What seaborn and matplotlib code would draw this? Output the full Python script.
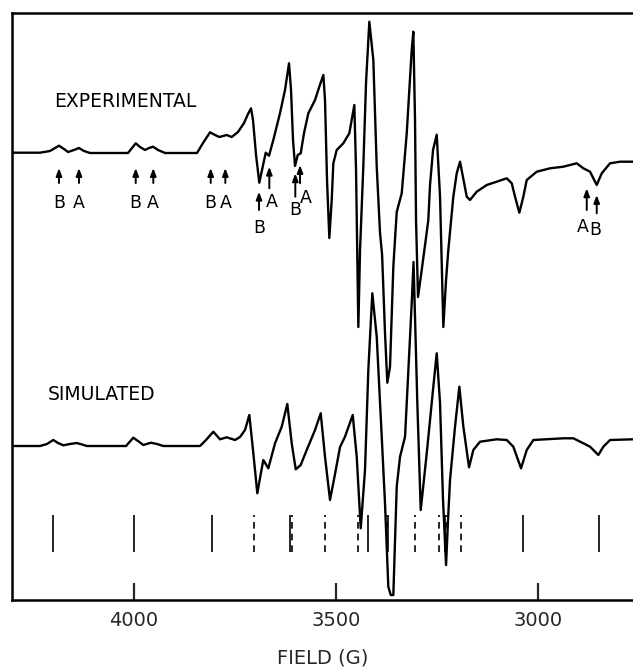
import numpy as np
import pandas as pd
import matplotlib
matplotlib.use("Agg")
import matplotlib.pyplot as plt
import seaborn as sns

# ---------------- data ----------------
# Experimental trace: magnetic field (G) and derivative intensity (arb. units)
exp_field = [4302, 4232.7, 4208, 4185.7, 4173.3, 4163.4, 4148.5, 4136.2, 4123.8, 4108.9,
             4014.9, 4005, 3995.8, 3985.2, 3972.8, 3962.9, 3953, 3940.6, 3923.3,
             3844.1, 3829.2, 3811.9, 3799.5, 3788.9, 3770.6, 3758.2, 3742.6, 3727.7, 3717.9,
             3710.4, 3705.5, 3698, 3689.9, 3683.2, 3674, 3665.9, 3655.2, 3638.6, 3626.3,
             3616.4, 3611.4, 3606.5, 3601.5, 3594.8, 3587.4, 3579.2, 3568.6, 3552, 3541.4,
             3531.4, 3527.3, 3522.3, 3516.6, 3510.7, 3506.7, 3498.3, 3482, 3467.1, 3454.7,
             3450.5, 3444.8, 3440.6, 3432.5, 3425.8, 3417.6, 3407.7, 3399.3, 3391.1, 3386,
             3378.8, 3373.1, 3366.4, 3358.2, 3349.8, 3337.4, 3325, 3312.7, 3308.7, 3304.5,
             3302, 3297.1, 3289.6, 3279.7, 3271.6, 3267.4, 3259.9, 3250.8, 3242.6, 3234.4,
             3227.7, 3222.1, 3209.7, 3201.3, 3193.1, 3176.5, 3168.4, 3151.8, 3127, 3102.3,
             3077.5, 3065.1, 3057, 3046.3, 3036.4, 3028, 3003.3, 2970.3, 2937.4, 2904.3,
             2887.9, 2871.3, 2854.8, 2842.4, 2821.8, 2797.1, 2772.3, 2764.9]
exp_signal = [0, 0, 1.7, 7, 3.7, 0.7, 2.7, 4.7, 1.7, -0.3,
              -0.3, 4.7, 9.4, 5.7, 2.7, 4.7, 6, 2.7, -0.3,
              -0.3, 9.7, 20.4, 17.7, 15.7, 17.7, 15.7, 20.7, 29.7, 38.7,
              44.4, 32.7, -2.3, -30, -17.3, 0, -3, 12.7, 39.7, 62.7,
              89.4, 62.7, 12.7, -13.3, -2.3, -0.6, 19.7, 39.4, 52.7, 66,
              77.7, 52.7, -27.3, -85.3, -47.3, -10.6, 2.7, 9.4, 19.4, 47.7,
              -17.3, -174.3, -97.3, -14, 69.7, 131, 92.7, -14, -80.3, -102,
              -180.3, -230, -214, -114, -59.3, -40.6, 19.4, 102.7, 121, 32.7,
              -67.3, -144.3, -122.3, -92.3, -67.3, -32.3, 2.7, 18, -44, -174.3,
              -127.3, -97.3, -44, -20.6, -9, -44, -47.3, -39, -32.3, -29,
              -25.6, -30.6, -44, -60, -44, -27.3, -19, -15.6, -14, -10.6,
              -15.6, -19, -32.3, -20.6, -10.6, -9, -9, -9]

# Simulated trace
sim_field = [4302, 4232.7, 4215.4, 4199.8, 4188.1, 4175, 4158.4, 4141.9, 4128.7, 4117.1,
             4019.8, 4001.8, 3990.1, 3977, 3957.9, 3943.1, 3927.5,
             3836.7, 3821.8, 3803.7, 3787.2, 3770.6, 3750, 3737.7, 3725.3, 3714.6, 3705.5,
             3694.8, 3688.1, 3680, 3667.6, 3651, 3634.4, 3620.6, 3609.7, 3599.8, 3587.4,
             3572.6, 3552, 3537.9, 3527.3, 3514.9, 3502.5, 3490.1, 3477.8, 3458.7, 3448.8,
             3438.9, 3428.3, 3420.1, 3410.2, 3399.3, 3386.9, 3378.8, 3370.6, 3364.6, 3358.2,
             3349.8, 3341.6, 3329.2, 3312.7, 3308.2, 3298.8, 3290.4, 3275.5, 3259.2, 3250.8,
             3242.6, 3235.2, 3227.7, 3222.8, 3217.9, 3205.5, 3194.8, 3184.9, 3170.8, 3160.2,
             3143.6, 3102.3, 3077.5, 3061.2, 3042.1, 3028, 3011.6, 2937.4, 2912.6, 2887.9,
             2871.3, 2850.8, 2838.4, 2821.8, 2764.9]
sim_signal = [0, 0, 2, 6, 3, 0.7, 2, 3, 1.5, 0,
              0, 8.3, 5, 1, 3.3, 2, 0,
              0, 6, 14.3, 6.7, 8.7, 6, 9, 16, 31, -4,
              -47.3, -32, -14, -22.3, 2.7, 19.3, 42, 2.7, -23.3, -19,
              -4, 16, 32.7, -10.7, -54, -28, -1, 9.3, 31, -10.7,
              -82.3, -24, 76, 152.7, 109.3, 9.3, -57.3, -140.7, -149, -149,
              -40.7, -10.7, 9.3, 142.7, 184, 42.7, -64, -7.3, 59.3, 92.7,
              42.7, -54, -119, -74, -34, 19.3, 59.3, 19.3, -21.3, -4,
              4.3, 6.7, 6, -0.7, -22.3, -4, 6, 7.7, 7.7, 2.7,
              -0.7, -9, -0.7, 6, 6.7]

# Stick spectrum (line positions, G)
stick_solid = [4200, 4000, 3807, 3614, 3420, 3372, 3231, 3038, 2848]
stick_dashed = [3702, 3610, 3527, 3445, 3375, 3305, 3244, 3228, 3191]

# Arrow markers on the experimental trace (field, label)
arrow_field = [4185.7, 4136.2, 3995.8, 3952.3, 3810.2, 3774.0,
               3690.6, 3665.1, 3600.8, 3589.1, 2879.5, 2854.8]
arrow_label = ["B", "A", "B", "A", "B", "A", "B", "A", "B", "A", "A", "B"]

x_ticks = [4000, 3500, 3000]
x_tick_labels = ["4000", "3500", "3000"]

# ---------------- layout (not data) ----------------
EXP_OFFSET = 447.3
SIM_OFFSET = 154.0
# arrow geometry: (tip y, tail y, label dx in G, label y)
arrow_geom = [(432, 417, 0, 397), (432, 417, 0, 397), (432, 417, 0, 397), (432, 417, 0, 397),
              (432, 417, 0, 397), (432, 417, 0, 397),
              (408.3, 390, 0, 371.7), (433.3, 411.7, -7, 398.3),
              (426.7, 403.3, 0, 390), (435, 416.7, -15, 402.3),
              (411.7, 390, 9, 373.3), (405, 386.7, 4, 370)]

df_exp = pd.DataFrame({"field": exp_field,
                       "y": np.array(exp_signal) + EXP_OFFSET})
df_sim = pd.DataFrame({"field": sim_field,
                       "y": np.array(sim_signal) + SIM_OFFSET})

sns.set_style("white")
plt.rcParams["font.family"] = ["DejaVu Sans"]

fig = plt.figure(figsize=(6.33, 6.69), dpi=100)
ax = fig.add_axes([12 / 633, 69 / 669, 621 / 633, 587 / 669])

sns.lineplot(data=df_exp, x="field", y="y", sort=False, estimator=None,
             color="black", lw=1.7, ax=ax)
sns.lineplot(data=df_sim, x="field", y="y", sort=False, estimator=None,
             color="black", lw=1.7, ax=ax)

ax.vlines(stick_solid, 48, 85, colors="black", lw=1.2)
ax.vlines(stick_dashed, 48, 85, colors="black", lw=1.2, linestyles=(0, (4, 3)))

for f, lab, (tip, tail, dx, ly) in zip(arrow_field, arrow_label, arrow_geom):
    ax.annotate("", xy=(f, tip), xytext=(f, tail),
                arrowprops=dict(arrowstyle="-|>,head_length=0.45,head_width=0.17",
                                color="black", lw=1.4, shrinkA=0, shrinkB=0))
    ax.text(f + dx, ly, lab, ha="center", va="center", fontsize=12.5,
            color="black")

ax.text(4197, 498.3, "EXPERIMENTAL", ha="left", va="center", fontsize=13.5,
        color="black")
ax.text(4213, 205.7, "SIMULATED", ha="left", va="center", fontsize=13.5,
        color="black")

ax.set_xlim(4302, 2765)
ax.set_ylim(0, 587)
ax.set_xticks(x_ticks)
ax.set_xticklabels(x_tick_labels)
ax.set_yticks([])
ax.tick_params(axis="x", direction="in", length=12, width=1.6, pad=8,
               labelsize=14, bottom=True, top=False)
ax.set_xlabel("FIELD (G)", fontsize=14, labelpad=13)
ax.set_ylabel("")
for side in ["left", "bottom", "top"]:
    ax.spines[side].set_visible(True)
    ax.spines[side].set_color("black")
    ax.spines[side].set_linewidth(1.8)
ax.spines["right"].set_visible(False)

fig.savefig("out.png", dpi=100)
